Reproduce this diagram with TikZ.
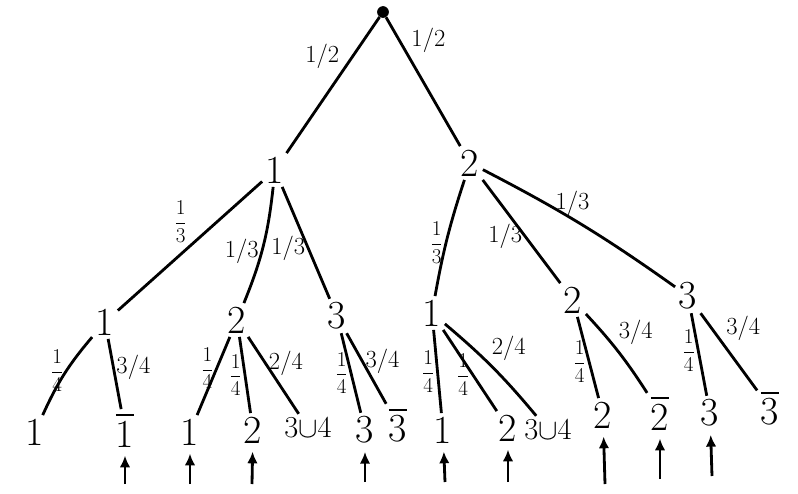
\documentclass[tikz,border=0pt]{standalone}
\usepackage{amsmath,amssymb}
\usepackage{fontspec}
\usepackage{tikz}
\usetikzlibrary{arrows.meta,positioning}

\begin{document}
\begin{tikzpicture}[
    x=0.03cm, y=-0.03cm,
    >={Latex[length=10pt,width=9pt]},
    state/.style={font=\fontsize{34}{36}\selectfont, inner sep=3pt},
    leaf/.style={font=\fontsize{34}{36}\selectfont, inner sep=3pt},
    branch/.style={line width=2.4pt, draw=black},
    prob/.style={font=\fontsize{21}{22}\selectfont, inner sep=1.5pt},
    sprob/.style={font=\fontsize{18}{19}\selectfont, inner sep=1.5pt},
    pointer/.style={->, line width=2.4pt, shorten >=4pt}
]
\useasboundingbox (0,0) rectangle (798,493);

% root and first level
\node[circle, fill=black, inner sep=0pt, minimum size=10pt] (root) at (383,12) {};
\node[state] (a) at (275,170) {1};
\node[state] (b) at (470,163) {2};

% second level
\node[state] (a1) at (105,322) {1};
\node[state] (a2) at (237,320) {2};
\node[state] (a3) at (337,316) {3};
\node[state] (b1) at (432,313) {1};
\node[state] (b2) at (573,300) {2};
\node[state] (b3) at (688,296) {3};

% leaves
\node[leaf] (l1) at (35,432) {1};
\node[leaf] (l2) at (125,430) {$\overline{\text{1}}$};
\node[leaf] (l3) at (190,432) {1};
\node[leaf] (l4) at (253,430) {2};
\node[leaf, font=\fontsize{26}{28}\selectfont] (l5) at (308,428) {3$\cup$4};
\node[leaf] (l6) at (365,430) {3};
\node[leaf] (l7) at (398,425) {$\overline{\text{3}}$};
\node[leaf] (l8) at (443,430) {1};
\node[leaf] (l9) at (508,428) {2};
\node[leaf, font=\fontsize{26}{28}\selectfont] (l10) at (548,430) {3$\cup$4};
\node[leaf] (l11) at (603,415) {2};
\node[leaf] (l12) at (660,413) {$\overline{\text{2}}$};
\node[leaf] (l13) at (710,413) {3};
\node[leaf] (l14) at (770,408) {$\overline{\text{3}}$};

% branches
\draw[branch] (root) -- node[prob, pos=0.4, above left] {1/2} (a);
\draw[branch] (root) -- node[prob, pos=0.3, above right] {1/2} (b);

\draw[branch] (a) -- node[sprob, pos=0.5, above left] {$\dfrac{\text{1}}{\text{3}}$} (a1);
\draw[branch] (a) to[bend left=8] node[prob, pos=0.55, left] {1/3} (a2);
\draw[branch] (a) -- node[prob, pos=0.55, left] {1/3} (a3);
\draw[branch] (b) to[bend right=4] node[sprob, pos=0.55, left] {$\dfrac{\text{1}}{\text{3}}$} (b1);
\draw[branch] (b) -- node[prob, pos=0.55, left] {1/3} (b2);
\draw[branch] (b) to[bend left=4] node[prob, pos=0.45, above] {1/3} (b3);

\draw[branch] (a1) to[bend right=8] node[sprob, pos=0.45, left] {$\dfrac{\text{1}}{\text{4}}$} (l1);
\draw[branch] (a1) -- node[prob, pos=0.4, right] {3/4} (l2);
\draw[branch] (a2) -- node[sprob, pos=0.4, left] {$\dfrac{\text{1}}{\text{4}}$} (l3);
\draw[branch] (a2) -- node[sprob, pos=0.5, left] {$\dfrac{\text{1}}{\text{4}}$} (l4);
\draw[branch] (a2) -- node[prob, pos=0.35, right] {2/4} (l5);
\draw[branch] (a3) -- node[sprob, pos=0.5, left] {$\dfrac{\text{1}}{\text{4}}$} (l6);
\draw[branch] (a3) -- node[prob, pos=0.4, right] {3/4} (l7);
\draw[branch] (b1) -- node[sprob, pos=0.5, left] {$\dfrac{\text{1}}{\text{4}}$} (l8);
\draw[branch] (b1) -- node[sprob, pos=0.55, left] {$\dfrac{\text{1}}{\text{4}}$} (l9);
\draw[branch] (b1) to[bend left=5] node[prob, pos=0.45, above right] {2/4} (l10);
\draw[branch] (b2) -- node[sprob, pos=0.55, left] {$\dfrac{\text{1}}{\text{4}}$} (l11);
\draw[branch] (b2) to[bend left=5] node[prob, pos=0.45, above right] {3/4} (l12);
\draw[branch] (b3) -- node[sprob, pos=0.45, left] {$\dfrac{\text{1}}{\text{4}}$} (l13);
\draw[branch] (b3) -- node[prob, pos=0.4, above right] {3/4} (l14);

% pointers under the leaves
\coordinate (u2) at (125,484);
\coordinate (u3) at (190,484);
\coordinate (u4) at (252,484);
\coordinate (u6) at (365,482);
\coordinate (u8) at (445,482);
\coordinate (u9) at (508,482);
\coordinate (u11) at (605,484);
\coordinate (u12) at (660,479);
\coordinate (u13) at (712,476);
\foreach \n in {2,3,4,6,8,9,11,12,13}
  \draw[pointer] (u\n) -- (l\n);
\end{tikzpicture}
\end{document}
